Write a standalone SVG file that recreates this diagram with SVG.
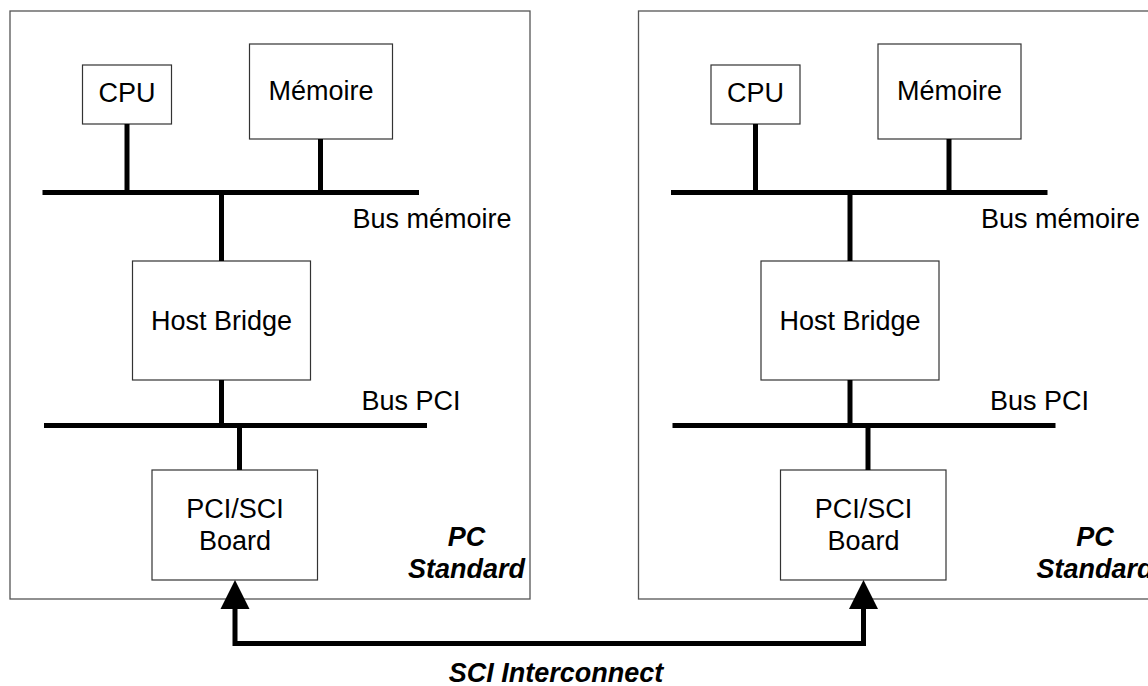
<svg xmlns="http://www.w3.org/2000/svg" width="1148" height="686" viewBox="0 0 1148 686">
  <style>
    .frame { fill: #fff; stroke: #555; stroke-width: 1.3; }
    .box { fill: #fff; stroke: #333; stroke-width: 1.2; }
    .bus { stroke: #000; stroke-width: 5; fill: none; }
    .stem { stroke: #000; stroke-width: 5; fill: none; }
    .lbl { font-family: "Liberation Sans", Arial, Helvetica, sans-serif; font-size: 27px; fill: #000; }
    .mid { text-anchor: middle; }
    .bi { font-weight: bold; font-style: italic; }
  </style>
  <defs>
    <marker id="head" markerUnits="userSpaceOnUse" markerWidth="40" markerHeight="40" refX="0" refY="0" orient="auto-start-reverse" overflow="visible">
      <path d="M0,-14.5 L29,0 L0,14.5 Z" fill="#000"/>
    </marker>
  </defs>
  <rect width="1148" height="686" fill="#fff"/>

  <!-- left PC -->
  <g id="pc1">
    <g id="pc1-frame">
      <rect class="frame" x="10" y="11" width="520" height="588"/>
      <text class="lbl mid bi" x="466.5" y="546">PC</text>
      <text class="lbl mid bi" x="466.5" y="578">Standard</text>
    </g>
    <g id="pc1-cpu">
      <rect class="box" x="82.5" y="65" width="89" height="59"/>
      <text class="lbl mid" x="127" y="101.5">CPU</text>
    </g>
    <g id="pc1-memoire">
      <rect class="box" x="249.5" y="44" width="143" height="95"/>
      <text class="lbl mid" x="321" y="100">Mémoire</text>
    </g>
    <g id="pc1-hostbridge">
      <rect class="box" x="132.5" y="261" width="178" height="119"/>
      <text class="lbl mid" x="221.5" y="330">Host Bridge</text>
    </g>
    <g id="pc1-board">
      <rect class="box" x="152" y="470" width="165.5" height="110"/>
      <text class="lbl mid" x="235" y="517.5">PCI/SCI</text>
      <text class="lbl mid" x="235" y="550">Board</text>
    </g>
  </g>

  <!-- right PC: same layout shifted -->
  <g id="pc2" transform="translate(628.5,0)">
    <g id="pc2-frame">
      <rect class="frame" x="10" y="11" width="520" height="588"/>
      <text class="lbl mid bi" x="466.5" y="546">PC</text>
      <text class="lbl mid bi" x="466.5" y="578">Standard</text>
    </g>
    <g id="pc2-cpu">
      <rect class="box" x="82.5" y="65" width="89" height="59"/>
      <text class="lbl mid" x="127" y="101.5">CPU</text>
    </g>
    <g id="pc2-memoire">
      <rect class="box" x="249.5" y="44" width="143" height="95"/>
      <text class="lbl mid" x="321" y="100">Mémoire</text>
    </g>
    <g id="pc2-hostbridge">
      <rect class="box" x="132.5" y="261" width="178" height="119"/>
      <text class="lbl mid" x="221.5" y="330">Host Bridge</text>
    </g>
    <g id="pc2-board">
      <rect class="box" x="152" y="470" width="165.5" height="110"/>
      <text class="lbl mid" x="235" y="517.5">PCI/SCI</text>
      <text class="lbl mid" x="235" y="550">Board</text>
    </g>
  </g>

  <!-- buses and links -->
  <g id="connectors">
    <g id="pc1-buses">
      <line class="bus" x1="42.5" y1="192.5" x2="419" y2="192.5"/>
      <line class="stem" x1="127" y1="124" x2="127" y2="192"/>
      <line class="stem" x1="320.5" y1="139" x2="320.5" y2="192"/>
      <line class="stem" x1="221.5" y1="192" x2="221.5" y2="261"/>
      <text class="lbl" x="352.5" y="227.5">Bus mémoire</text>
      <line class="stem" x1="221.5" y1="380" x2="221.5" y2="425"/>
      <line class="bus" x1="44" y1="425.5" x2="427" y2="425.5"/>
      <line class="stem" x1="239.5" y1="425" x2="239.5" y2="470"/>
      <text class="lbl" x="361.5" y="410">Bus PCI</text>
    </g>
    <g id="pc2-buses" transform="translate(628.5,0)">
      <line class="bus" x1="42.5" y1="192.5" x2="419" y2="192.5"/>
      <line class="stem" x1="127" y1="124" x2="127" y2="192"/>
      <line class="stem" x1="320.5" y1="139" x2="320.5" y2="192"/>
      <line class="stem" x1="221.5" y1="192" x2="221.5" y2="261"/>
      <text class="lbl" x="352.5" y="227.5">Bus mémoire</text>
      <line class="stem" x1="221.5" y1="380" x2="221.5" y2="425"/>
      <line class="bus" x1="44" y1="425.5" x2="427" y2="425.5"/>
      <line class="stem" x1="239.5" y1="425" x2="239.5" y2="470"/>
      <text class="lbl" x="361.5" y="410">Bus PCI</text>
    </g>
    <g id="sci-link">
      <path d="M235,609 V643.5 H863.5 V609" fill="none" stroke="#000" stroke-width="5" stroke-linejoin="miter" marker-start="url(#head)" marker-end="url(#head)"/>
      <text class="lbl mid bi" x="556" y="681.5">SCI Interconnect</text>
    </g>
  </g>
</svg>
